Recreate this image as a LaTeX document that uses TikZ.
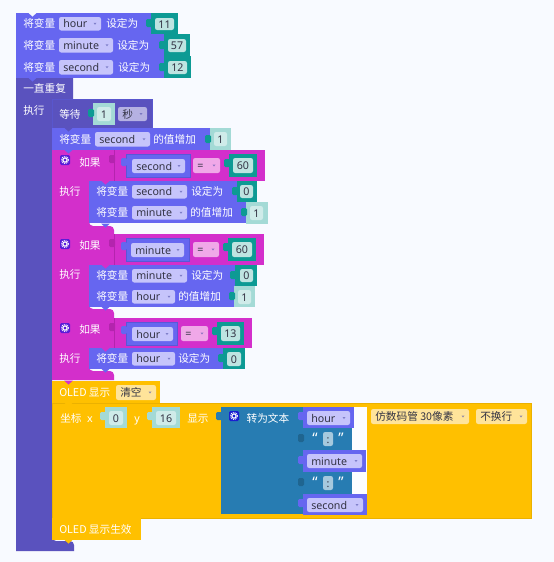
\documentclass[tikz,border=0pt]{standalone}
\usepackage{fontspec}
\setmainfont{Noto Sans CJK SC}
\newfontfamily\latinfont{Noto Sans}
\usetikzlibrary{calc,positioning}

\definecolor{pagebg}{HTML}{F8FAFF}
\definecolor{varcol}{HTML}{6666F0}
\definecolor{varedge}{HTML}{5858D8}
\definecolor{varfield}{HTML}{C6C4FB}
\definecolor{loopcol}{HTML}{5A52BE}
\definecolor{loopfield}{HTML}{B5B1E2}
\definecolor{ifcol}{HTML}{D32FCB}
\definecolor{ifdark}{HTML}{B424AE}
\definecolor{eqfield}{HTML}{F0A8E8}
\definecolor{tealcol}{HTML}{0D9A94}
\definecolor{tealsoft}{HTML}{A4DAD6}
\definecolor{tealpale}{HTML}{CFEBE9}
\definecolor{oledcol}{HTML}{FFC000}
\definecolor{oledfield}{HTML}{FFE49A}
\definecolor{textcol}{HTML}{277CB2}
\definecolor{textdark}{HTML}{1F6590}
\definecolor{textfield}{HTML}{A6C9DE}
\definecolor{iconif}{HTML}{5A1CD8}
\definecolor{icontext}{HTML}{1A1ED0}
\definecolor{inktext}{HTML}{333344}

\tikzset{
  lbl/.style={anchor=west,inner sep=0pt,text=white,text height=7.2pt,text depth=1.2pt,
    font=\fontsize{8}{9}\selectfont},
  dark/.style={lbl,text=inktext},
  mid/.style={anchor=center},
  quotemark/.style={lbl,mid,font=\fontsize{11}{11}\selectfont\latinfont\bfseries},
  varblock/.style={fill=varcol},
  loopblock/.style={fill=loopcol},
  ifblock/.style={fill=ifcol},
  tealblock/.style={fill=tealcol},
  softblock/.style={fill=tealsoft},
  oledblock/.style={fill=oledcol},
  textblock/.style={fill=textcol},
  field/.style={rounded corners=1.6pt}
}

\newcommand{\lat}[1]{{\latinfont #1}}
% block body
\newcommand{\blockbox}[5]{\fill[#1] (#2,#3) rectangle (#4,#5);}
% inner bracket of a statement block
\newcommand{\bracket}[9]{%
  \fill[#1] (#2,#5) -- (#4,#5) -- (#4,#6) -- (#3,#6) [rounded corners=3pt] -- (#3,#7)
    -- (#8,#7) [sharp corners] -- (#8,#9) -- (#2,#9) -- cycle;}
% left tab of a value block
\newcommand{\puzzletab}[3]{\fill[#1,rounded corners=1pt] ($(#2,#3)+(-5,-4)$) rectangle ($(#2,#3)+(1,4)$);}
% dropdown with its small triangle
\newcommand{\dropdown}[7]{%
  \fill[field,fill=#1] (#3,#4) rectangle (#5,#6);
  \node[dark] (#2) at ($(#3,{(#4+#6)/2})+(4,0)$) {#7};
  \fill[#1!65!blue!60!gray] ($(#5,{(#4+#6)/2})+(-7.5,-1)$) -- ++(3,0) -- ++(-1.5,2) -- cycle;}
% number field inside a value block
\newcommand{\numfield}[7]{%
  \fill[field,fill=#1] (#3,#4) rectangle (#5,#6);
  \node[dark,mid] (#2) at ({(#3+#5)/2},{(#4+#6)/2}) {\lat{#7}};}
% small square with the gear
\newcommand{\gearicon}[4]{%
  \node[fill=#4,rounded corners=1pt,minimum size=7.5pt,inner sep=0pt] (#1) at (#2,#3) {};
  \draw[white,line width=.8pt] (#1.center) circle (1.6pt);
  \draw[white,line width=.8pt,dash pattern=on .7pt off .7pt] (#1.center) circle (2.6pt);}
% set-variable row
\newcommand{\setrow}[9]{%
  \blockbox{varblock}{#1}{#2}{#3}{#4}
  \node[lbl] (#5) at (#1+7,{(#2+#4)/2}) {将变量};
  \dropdown{varfield}{#5var}{#1+43}{#2+4}{#6}{#4-3.5}{\lat{#7}}
  \node[lbl] (#5set) at (#8,{(#2+#4)/2}) {#9};}

\begin{document}
\begin{tikzpicture}[x=0.75pt,y=-0.75pt]
  \useasboundingbox (0,0) rectangle (554,562);
  \fill[pagebg] (0,0) rectangle (554,562);

  % start values
  \setrow{16}{13}{151}{34}{setHour}{101}{hour}{106}{设定为}
  \setrow{16}{34}{164}{56}{setMinute}{113}{minute}{117}{设定为}
  \setrow{16}{56}{164}{78}{setSecond}{113}{second}{118}{设定为}
  \blockbox{tealblock}{151}{13}{178}{34}
  \puzzletab{tealblock}{151}{23}
  \numfield{tealpale!60!tealsoft}{numHour}{155}{18}{174}{30}{11}
  \blockbox{tealblock}{164}{34}{190}{56}
  \puzzletab{tealblock}{164}{45}
  \numfield{tealpale!60!tealsoft}{numMinute}{168}{39}{186}{52}{57}
  \blockbox{tealblock}{164}{56}{191}{78}
  \puzzletab{tealblock}{164}{67}
  \numfield{tealpale!60!tealsoft}{numSecond}{168}{61}{187}{74}{12}

  % forever loop
  \bracket{loopblock}{16}{52}{73}{78}{99}{541}{74}{551}
  \node[lbl] (loopLbl) at (23,88) {一直重复};
  \node[lbl] (loopDo) at (23,110) {执行};

  \blockbox{loopblock,draw=varedge!60!loopcol,line width=.4pt}{52}{99}{152}{128}
  \node[lbl] (waitLbl) at (59,114) {等待};
  \blockbox{softblock}{93}{103}{115}{125}
  \puzzletab{tealblock}{93}{113}
  \numfield{tealpale}{waitNum}{97}{107}{111}{121}{1}
  \dropdown{loopfield}{waitUnit}{118}{107}{147}{121}{秒}

  \setrow{52}{128}{210}{150}{incSecond}{150}{second}{153}{的值增加}
  \blockbox{softblock}{210}{128}{231}{150}
  \puzzletab{tealblock}{210}{139}
  \numfield{tealpale}{incSecondNum}{214}{132}{227}{146}{1}

  % first if
  \bracket{ifblock}{52}{89}{114}{150}{181}{226}{114}{234}
  \blockbox{ifblock}{114}{150}{265}{181}
  \draw[ifdark,line width=.4pt] (114,150) -- (114,181);
  \puzzletab{ifdark}{114}{159}
  \gearicon{gearA}{65}{160}{iconif}
  \node[lbl] (ifA) at (79,162) {如果};
  \node[lbl] (doA) at (59,191) {执行};
  \fill[varcol,draw=varedge,line width=.4pt] (126,154) rectangle (190,177);
  \puzzletab{varblock}{126}{162}
  \dropdown{varfield}{condA}{132}{159}{185}{173}{\lat{second}}
  \dropdown{eqfield}{eqA}{193}{158}{220}{173}{\lat{=}}
  \blockbox{tealblock}{229}{154}{257}{177}
  \puzzletab{tealblock}{229}{163}
  \numfield{tealpale!60!tealsoft}{limitA}{233}{158}{253}{173}{60}
  \setrow{89}{181}{237}{202}{zeroSecond}{187}{second}{191}{设定为}
  \blockbox{tealblock}{237}{181}{257}{202}
  \puzzletab{tealblock}{237}{191}
  \numfield{tealpale!60!tealsoft}{zeroSecondNum}{240}{185}{253}{198}{0}
  \setrow{89}{202}{246}{223}{incMinute}{187}{minute}{190}{的值增加}
  \blockbox{softblock}{246}{202}{268}{224}
  \puzzletab{tealblock}{246}{212}
  \numfield{tealpale}{incMinuteNum}{250}{206}{263}{220}{1}

  % second if
  \bracket{ifblock}{52}{89}{114}{234}{265}{309}{114}{318}
  \blockbox{ifblock}{114}{234}{264}{265}
  \draw[ifdark,line width=.4pt] (114,234) -- (114,265);
  \puzzletab{ifdark}{114}{243}
  \gearicon{gearB}{65}{244}{iconif}
  \node[lbl] (ifB) at (79,245) {如果};
  \node[lbl] (doB) at (59,274) {执行};
  \fill[varcol,draw=varedge,line width=.4pt] (126,238) rectangle (189,261);
  \puzzletab{varblock}{126}{246}
  \dropdown{varfield}{condB}{131}{243}{184}{257}{\lat{minute}}
  \dropdown{eqfield}{eqB}{193}{242}{219}{257}{\lat{=}}
  \blockbox{tealblock}{228}{238}{256}{261}
  \puzzletab{tealblock}{228}{247}
  \numfield{tealpale!60!tealsoft}{limitB}{232}{242}{252}{257}{60}
  \setrow{89}{265}{235}{286}{zeroMinute}{187}{minute}{191}{设定为}
  \blockbox{tealblock}{235}{265}{257}{286}
  \puzzletab{tealblock}{235}{275}
  \numfield{tealpale!60!tealsoft}{zeroMinuteNum}{240}{269}{253}{282}{0}
  \setrow{89}{286}{234}{307}{incHour}{175}{hour}{178}{的值增加}
  \blockbox{softblock}{234}{286}{255}{307}
  \puzzletab{tealblock}{234}{296}
  \numfield{tealpale}{incHourNum}{238}{290}{251}{304}{1}

  % third if
  \bracket{ifblock}{52}{89}{114}{318}{348}{371}{114}{380}
  \blockbox{ifblock}{114}{318}{252}{348}
  \draw[ifdark,line width=.4pt] (114,318) -- (114,348);
  \puzzletab{ifdark}{114}{327}
  \gearicon{gearC}{65}{328}{iconif}
  \node[lbl] (ifC) at (79,329) {如果};
  \node[lbl] (doC) at (59,358) {执行};
  \fill[varcol,draw=varedge,line width=.4pt] (126,322) rectangle (177,345);
  \puzzletab{varblock}{126}{330}
  \dropdown{varfield}{condC}{132}{327}{173}{341}{\lat{hour}}
  \dropdown{eqfield}{eqC}{181}{326}{208}{341}{\lat{=}}
  \blockbox{tealblock}{217}{322}{244}{345}
  \puzzletab{tealblock}{217}{331}
  \numfield{tealpale!60!tealsoft}{limitC}{221}{326}{240}{341}{13}
  \setrow{89}{348}{223}{369}{zeroHour}{175}{hour}{178}{设定为}
  \blockbox{tealblock}{223}{348}{245}{369}
  \puzzletab{tealblock}{223}{358}
  \numfield{tealpale!60!tealsoft}{zeroHourNum}{227}{352}{241}{366}{0}

  % display
  \blockbox{oledblock}{52}{381}{160}{403}
  \node[lbl] (oledClear) at (59,392) {OLED 显示};
  \dropdown{oledfield}{clearMode}{116}{385}{156}{400}{清空}

  \blockbox{oledblock,draw=oledcol!92!black,line width=.4pt}{52}{403}{531}{518}
  \node[lbl] (posLbl) at (60,418) {坐标};
  \node[lbl,mid] (xLbl) at (90,418) {\lat{x}};
  \blockbox{softblock}{105}{407}{127}{428}
  \puzzletab{softblock}{105}{416}
  \numfield{tealpale}{xNum}{109}{411}{123}{425}{0}
  \node[lbl,mid] (yLbl) at (137,418) {\lat{y}};
  \blockbox{softblock}{152}{407}{180}{428}
  \puzzletab{softblock}{152}{416}
  \numfield{tealpale}{yNum}{156}{411}{176}{425}{16}
  \node[lbl] (showLbl) at (187,418) {显示};

  \fill[white!60!pagebg] (303,407) rectangle (367,514);
  \blockbox{textblock}{221}{407}{303}{514}
  \puzzletab{textblock}{221}{416}
  \gearicon{gearText}{234}{416}{icontext}
  \node[lbl,mid] (toText) at (268,418) {转为文本};

  \blockbox{varblock}{303}{407}{354}{428}
  \puzzletab{varblock}{303}{416}
  \dropdown{varfield}{joinHour}{307}{411}{350}{425}{\lat{hour}}
  \blockbox{textblock}{303}{428}{352}{450}
  \puzzletab{textdark}{303}{438}
  \node[quotemark] (quoteAl) at (315,439) {“};
  \numfield{textfield}{sepA}{323}{432}{333}{446}{\textbf{:}}
  \node[quotemark] (quoteAr) at (341,439) {”};
  \blockbox{varblock}{303}{450}{366}{472}
  \puzzletab{varblock}{303}{460}
  \dropdown{varfield}{joinMinute}{307}{454}{362}{468}{\lat{minute}}
  \blockbox{textblock}{303}{472}{352}{494}
  \puzzletab{textdark}{303}{482}
  \node[quotemark] (quoteBl) at (315,483) {“};
  \numfield{textfield}{sepB}{323}{476}{333}{490}{\textbf{:}}
  \node[quotemark] (quoteBr) at (341,483) {”};
  \blockbox{varblock}{303}{494}{367}{515}
  \puzzletab{varblock}{303}{503}
  \dropdown{varfield}{joinSecond}{307}{498}{363}{512}{\lat{second}}

  \dropdown{oledfield}{fontMode}{371}{409}{469}{424}{仿数码管 30像素}
  \dropdown{oledfield}{wrapMode}{476}{409}{527}{424}{不换行}

  \blockbox{oledblock}{52}{518}{141}{540}
  \node[lbl] (oledShow) at (59,529) {OLED 显示生效};

  % notches
  \foreach \nx/\ny/\ncol in {16/13/pagebg,16/34/varcol,16/56/varcol,16/78/varcol,
      52/128/loopcol,52/150/varcol,89/181/ifcol,89/202/varcol,89/224/varcol,52/234/ifcol,
      89/265/ifcol,89/286/varcol,89/307/varcol,52/318/ifcol,89/348/ifcol,89/369/varcol,
      52/381/ifcol,52/403/oledcol,52/518/oledcol,52/540/oledcol}
    \fill[\ncol] (\nx+12,\ny-.5) -- (\nx+16.5,\ny+3.5) -- (\nx+21,\ny-.5) -- cycle;
\end{tikzpicture}
\end{document}
